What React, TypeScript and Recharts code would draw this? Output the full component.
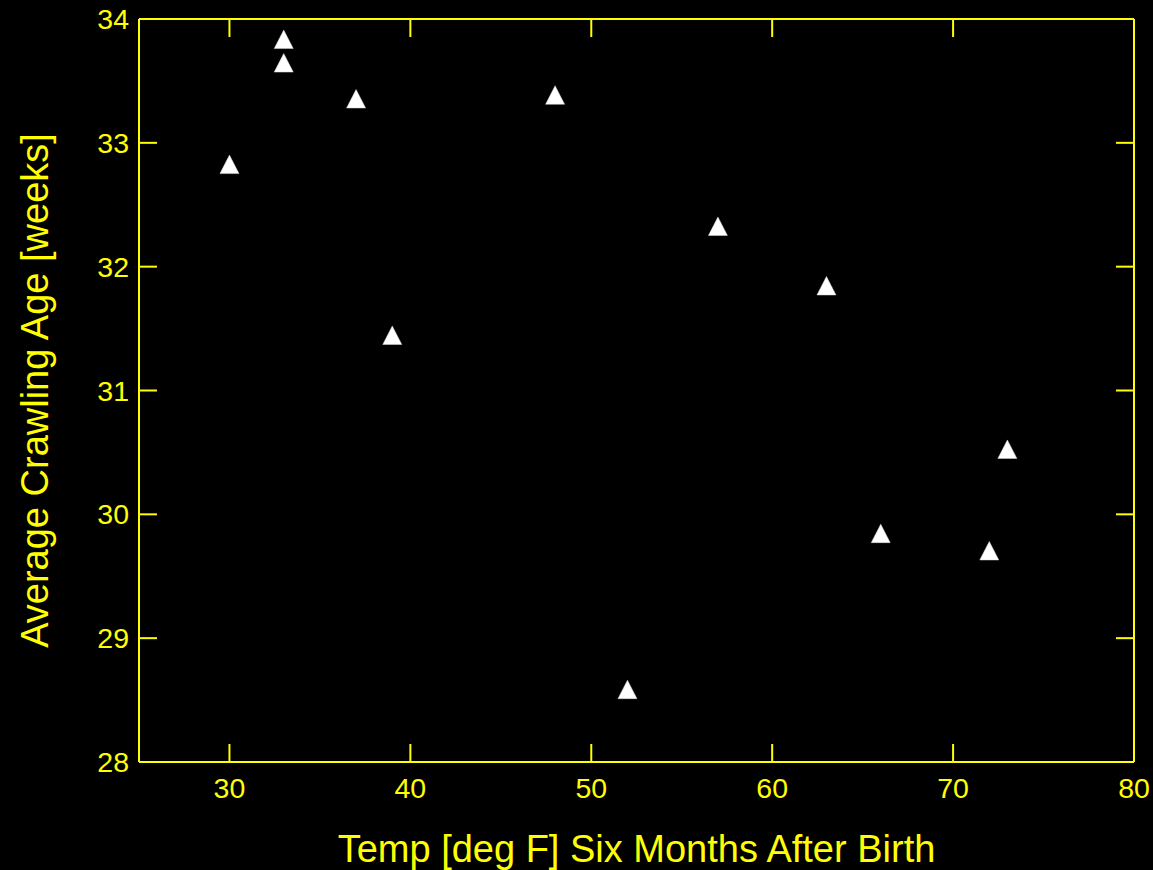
import React from 'react';
import { ScatterChart, Scatter, XAxis, YAxis, ReferenceLine } from 'recharts';

// Birth month, mean temperature six months after birth, and average crawling age
const months = ['Jan', 'Feb', 'Mar', 'Apr', 'May', 'Jun', 'Jul', 'Aug', 'Sep', 'Oct', 'Nov', 'Dec'];
const temps = [66, 73, 72, 63, 52, 39, 33, 30, 33, 37, 48, 57];
const crawlAges = [29.84, 30.52, 29.7, 31.84, 28.58, 31.44, 33.64, 32.82, 33.83, 33.35, 33.38, 32.32];

const xTicks = [30, 40, 50, 60, 70, 80];
const yTicks = [28, 29, 30, 31, 32, 33, 34];

const data = months.map((m, i) => ({ month: m, temp: temps[i], age: crawlAges[i] }));

const YELLOW = '#ffff00';
const FONT = '"Liberation Sans", Arial, sans-serif';
const TICK_FONT = 28.5;
const LABEL_FONT = 38;
const TICK_LEN = 18;

const Triangle = (props: any) => {
  const { cx, cy } = props;
  if (cx == null || cy == null) return null;
  const pts = `${cx},${cy - 10} ${cx - 9.5},${cy + 8.5} ${cx + 9.5},${cy + 8.5}`;
  return <polygon points={pts} fill="#ffffff" stroke="#d8d8d8" strokeWidth={0.5} />;
};

// Short inward tick marks at both ends of a full-span reference line
const VerticalTicks = (props: any) => {
  const x = Number(props.x1);
  const top = Math.min(Number(props.y1), Number(props.y2));
  const bottom = Math.max(Number(props.y1), Number(props.y2));
  return (
    <g>
      <line x1={x} x2={x} y1={top} y2={top + TICK_LEN} stroke={YELLOW} strokeWidth={2} />
      <line x1={x} x2={x} y1={bottom} y2={bottom - TICK_LEN} stroke={YELLOW} strokeWidth={2} />
    </g>
  );
};

const HorizontalTicks = (props: any) => {
  const y = Number(props.y1);
  const left = Math.min(Number(props.x1), Number(props.x2));
  const right = Math.max(Number(props.x1), Number(props.x2));
  return (
    <g>
      <line x1={left} x2={left + TICK_LEN} y1={y} y2={y} stroke={YELLOW} strokeWidth={2} />
      <line x1={right} x2={right - TICK_LEN} y1={y} y2={y} stroke={YELLOW} strokeWidth={2} />
    </g>
  );
};

export default function App() {
  return (
    <div style={{ position: 'absolute', left: 0, top: 0, width: 1153, height: 870, background: '#000' }}>
      <ScatterChart width={1153} height={870} margin={{ top: 19, right: 19, bottom: 0, left: 0 }}>
        <XAxis
          dataKey="temp"
          type="number"
          domain={[25, 80]}
          ticks={xTicks}
          height={108}
          tickSize={0}
          tickMargin={16}
          tickLine={false}
          axisLine={{ stroke: YELLOW, strokeWidth: 2 }}
          tick={{ fill: YELLOW, fontSize: TICK_FONT, fontFamily: FONT }}
          label={{
            value: 'Temp [deg F] Six Months After Birth',
            position: 'insideBottom',
            offset: 8,
            fill: YELLOW,
            fontSize: LABEL_FONT,
            fontFamily: FONT,
          }}
        />
        <XAxis
          xAxisId="top"
          orientation="top"
          type="number"
          domain={[25, 80]}
          height={1}
          mirror
          tick={false}
          tickLine={false}
          axisLine={{ stroke: YELLOW, strokeWidth: 2 }}
        />
        <YAxis
          dataKey="age"
          type="number"
          domain={[28, 34]}
          ticks={yTicks}
          width={139}
          tickSize={0}
          tickMargin={10}
          tickLine={false}
          axisLine={{ stroke: YELLOW, strokeWidth: 2 }}
          tick={{ fill: YELLOW, fontSize: TICK_FONT, fontFamily: FONT }}
          label={{
            value: 'Average Crawling Age [weeks]',
            angle: -90,
            position: 'center',
            dx: -35,
            fill: YELLOW,
            fontSize: LABEL_FONT,
            fontFamily: FONT,
          }}
        />
        <YAxis
          yAxisId="right"
          orientation="right"
          type="number"
          domain={[28, 34]}
          width={1}
          mirror
          tick={false}
          tickLine={false}
          axisLine={{ stroke: YELLOW, strokeWidth: 2 }}
        />
        {xTicks.map((t) => (
          <ReferenceLine key={`xt-${t}`} x={t} shape={VerticalTicks} />
        ))}
        {yTicks.map((t) => (
          <ReferenceLine key={`yt-${t}`} y={t} shape={HorizontalTicks} />
        ))}
        <Scatter data={data} dataKey="age" shape={Triangle} isAnimationActive={false} />
      </ScatterChart>
    </div>
  );
}
